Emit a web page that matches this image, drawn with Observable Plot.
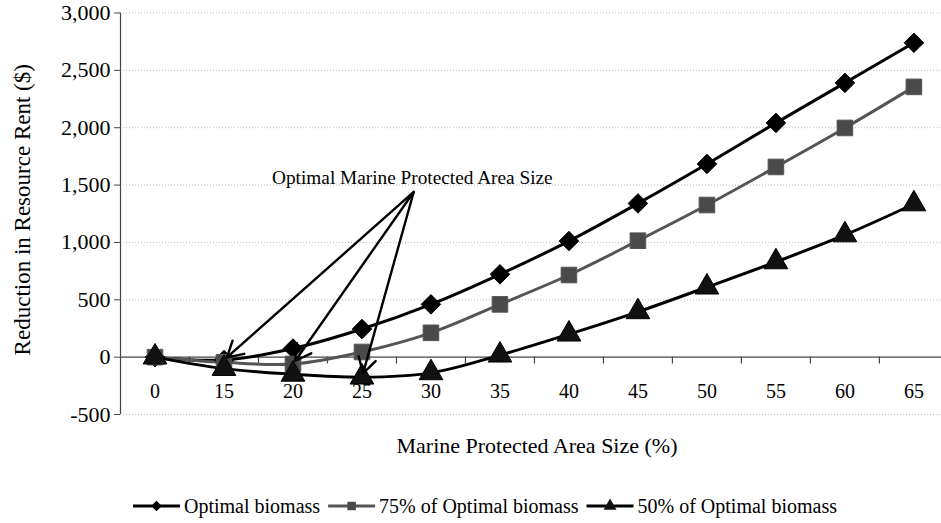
<!DOCTYPE html>
<html>
<head>
<meta charset="utf-8">
<script src="https://cdn.jsdelivr.net/npm/d3@7"></script>
<script src="https://cdn.jsdelivr.net/npm/@observablehq/plot@0.6"></script>
<style>
  html, body { margin: 0; padding: 0; background: #fff; }
  body { width: 941px; height: 523px; overflow: hidden; font-family: "Liberation Serif", "Times New Roman", serif; }
  #chart svg, #legend svg { display: block; }
</style>
</head>
<body>
<div id="chart"></div>
<div id="legend"></div>
<script>
// Marine protected area size categories (%)
const sizes = ["0", "15", "20", "25", "30", "35", "40", "45", "50", "55", "60", "65"];

// Reduction in resource rent ($) for each biomass scenario
const optimal = [0, -25, 75, 245, 460, 722, 1012, 1340, 1684, 2042, 2391, 2740];
const pct75   = [0, -45, -60, 45, 212, 460, 716, 1015, 1326, 1658, 1998, 2356];
const pct50   = [0, -100, -150, -175, -137, 17, 200, 395, 610, 830, 1065, 1335];

const seriesNames = ["Optimal biomass", "75% of Optimal biomass", "50% of Optimal biomass"];
const seriesValues = [optimal, pct75, pct50];
const seriesColors = ["#000", "#555", "#000"];
const seriesFills = ["#000", "#4a4a4a", "#111"];
const seriesSymbols = ["diamond2", "square", "triangle"];

const yTicks = [-500, 0, 500, 1000, 1500, 2000, 2500, 3000];

// Annotation: label anchor and the point the arrows fan out from (category index, $)
const noteText = "Optimal Marine Protected Area Size";
const noteAnchor = {i: 3.73, v: 1560};
const arrowSource = {i: 3.75, v: 1440};
// Each arrow points at the minimum of one scenario
const arrowTargets = [
  {i: 1, v: optimal[1]},
  {i: 2, v: pct75[2]},
  {i: 3, v: pct50[3]}
];

const idx = sizes.map((_, i) => i);
const xMax = 11.4;
const edges = idx.map(i => i + 0.5).filter(e => e < xMax);

const rows = seriesNames.flatMap((name, s) =>
  seriesValues[s].map((v, i) => ({series: name, s, i, v}))
);

const fmt = d => d.toLocaleString("en-US");
const serif = "'Liberation Serif', 'Times New Roman', serif";

const chart = Plot.plot({
  width: 941,
  height: 470,
  marginLeft: 120,
  marginRight: 0,
  marginTop: 12.5,
  marginBottom: 56,
  style: {fontFamily: serif, color: "#000", background: "#fff"},
  x: {domain: [-0.5, xMax], axis: null},
  y: {domain: [-500, 3000]},
  marks: [
    // dotted horizontal gridlines
    Plot.ruleY(yTicks.filter(t => t !== 0), {stroke: "#bdbdbd", strokeWidth: 1, strokeDasharray: "1,2"}),
    // category axis line at zero, with tick marks between categories
    Plot.ruleY([0], {stroke: "#444", strokeWidth: 1.2}),
    Plot.ruleX(edges, {x: d => d, y1: 0, y2: -60, stroke: "#444", strokeWidth: 1.2}),
    Plot.text(idx, {x: d => d, y: 0, text: d => sizes[d], dy: 34, fontSize: 20, fill: "#000"}),
    // value axis
    Plot.ruleX([-0.5], {stroke: "#444", strokeWidth: 1.2}),
    Plot.axisY({
      ticks: yTicks,
      tickFormat: fmt,
      tickSize: 6,
      tickPadding: 4,
      fontSize: 22,
      stroke: "#444",
      label: null
    }),
    Plot.text(["Reduction in Resource Rent ($)"], {
      frameAnchor: "left", textAnchor: "middle", lineAnchor: "middle",
      rotate: -90, dx: -98, dy: -4, fontSize: 23, fill: "#000"
    }),
    // category axis title
    Plot.text(["Marine Protected Area Size (%)"], {frameAnchor: "bottom", dx: 6, dy: 38, fontSize: 22, fill: "#000"}),
    // series lines and markers
    Plot.line(rows, {x: "i", y: "v", z: "series", stroke: d => seriesColors[d.s], strokeWidth: 3, curve: "catmull-rom"}),
    Plot.dot(rows, {
      x: "i", y: "v",
      symbol: d => seriesSymbols[d.s],
      fill: d => seriesFills[d.s],
      stroke: d => seriesColors[d.s],
      strokeWidth: 1,
      r: 8.8
    }),
    // annotation
    Plot.arrow(arrowTargets, {
      x1: () => arrowSource.i, y1: () => arrowSource.v,
      x2: "i", y2: "v",
      stroke: "#000", strokeWidth: 2.4, headLength: 11, insetEnd: 4
    }),
    Plot.text([noteText], {x: () => noteAnchor.i, y: () => noteAnchor.v, fontSize: 19.3, fill: "#000", text: d => d})
  ]
});
document.getElementById("chart").appendChild(chart);

// Legend: line swatch with its marker, then the series name, laid out in one row
const legend = d3.select("#legend").append("svg")
  .attr("width", 941).attr("height", 53)
  .style("font-family", serif);
const row = legend.append("g").attr("transform", "translate(0,36)");
const swatchW = 47, gapIn = 4, gapOut = 8;
let cursor = 133;
seriesNames.forEach((name, s) => {
  row.append("line").attr("x1", cursor).attr("x2", cursor + swatchW).attr("y1", 0).attr("y2", 0)
    .attr("stroke", seriesColors[s]).attr("stroke-width", 3);
  const sym = {diamond2: d3.symbolDiamond2, square: d3.symbolSquare, triangle: d3.symbolTriangle}[seriesSymbols[s]];
  row.append("path").attr("d", d3.symbol(sym, 72)()).attr("transform", `translate(${cursor + swatchW / 2},0)`)
    .attr("fill", seriesFills[s]);
  cursor += swatchW + gapIn;
  const t = row.append("text").attr("x", cursor).attr("y", 0).attr("dy", "0.33em")
    .attr("font-size", 20).attr("fill", "#000")
    .text(name);
  cursor += t.node().getComputedTextLength() + gapOut;
});
</script>
</body>
</html>
